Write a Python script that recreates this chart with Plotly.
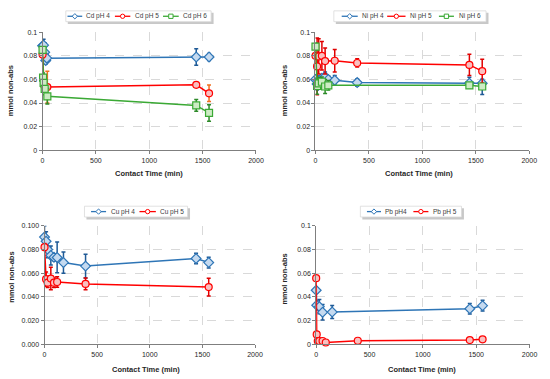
import plotly.graph_objects as go

# ---------------- data ----------------
x_ticks = [0, 500, 1000, 1500, 2000]

# Cd
cd4_t = [0, 10, 20, 30, 40, 1440, 1560]
cd4_v = [0.0884, 0.0890, 0.0830, 0.0760, 0.0780, 0.0790, 0.0790]
cd4_e = [0.0040, 0.0050, 0.0080, 0.0030, 0.0030, 0.0070, 0.0030]
cd5_t = [0, 15, 45, 1440, 1560]
cd5_v = [0.0810, 0.0550, 0.0535, 0.0554, 0.0482]
cd5_e = [0.0030, 0.0050, 0.0135, 0.0010, 0.0070]
cd6_t = [0, 5, 10, 20, 45, 1440, 1560]
cd6_v = [0.0850, 0.0615, 0.0570, 0.0520, 0.0457, 0.0380, 0.0316]
cd6_e = [0.0020, 0.0040, 0.0040, 0.0050, 0.0065, 0.0050, 0.0070]

# Ni
ni4_t = [0, 15, 30, 60, 90, 120, 180, 390, 1440, 1560]
ni4_v = [0.0600, 0.0560, 0.0590, 0.0610, 0.0622, 0.0600, 0.0593, 0.0573, 0.0568, 0.0567]
ni4_ep = [0.0030, 0.0050, 0.0040, 0.0030, 0.0040, 0.0030, 0.0040, 0.0030, 0.0050, 0.0035]
ni4_em = [0.0030, 0.0050, 0.0040, 0.0030, 0.0040, 0.0030, 0.0040, 0.0030, 0.0040, 0.0095]
ni5_t = [0, 15, 30, 60, 90, 180, 390, 1440, 1560]
ni5_v = [0.0800, 0.0710, 0.0795, 0.0800, 0.0755, 0.0758, 0.0739, 0.0723, 0.0670]
ni5_e = [0.0050, 0.0240, 0.0150, 0.0120, 0.0110, 0.0095, 0.0035, 0.0090, 0.0100]
ni6_t = [0, 15, 30, 60, 90, 120, 1440, 1560]
ni6_v = [0.0878, 0.0544, 0.0567, 0.0580, 0.0540, 0.0550, 0.0550, 0.0540]
ni6_e = [0.0030, 0.0070, 0.0050, 0.0040, 0.0060, 0.0040, 0.0020, 0.0020]

# Cu
cu4_t = [0, 15, 30, 60, 90, 120, 180, 390, 1440, 1560]
cu4_v = [0.0905, 0.0870, 0.0800, 0.0750, 0.0735, 0.0733, 0.0690, 0.0660, 0.0724, 0.0690]
cu4_e = [0.0095, 0.0080, 0.0070, 0.0080, 0.0030, 0.0130, 0.0090, 0.0100, 0.0045, 0.0045]
cu5_t = [0, 15, 30, 60, 90, 120, 390, 1560]
cu5_v = [0.0820, 0.0550, 0.0520, 0.0555, 0.0520, 0.0526, 0.0510, 0.0483]
cu5_e = [0.0030, 0.0060, 0.0040, 0.0095, 0.0040, 0.0045, 0.0050, 0.0075]

# Pb
pb4_t = [0, 5, 30, 60, 150, 1440, 1560]
pb4_v = [0.0456, 0.0330, 0.0318, 0.0270, 0.0272, 0.0300, 0.0326]
pb4_e = [0.0020, 0.0040, 0.0060, 0.0065, 0.0055, 0.0045, 0.0045]
pb5_t = [0, 5, 15, 30, 60, 90, 390, 1440, 1560]
pb5_v = [0.0558, 0.0083, 0.0028, 0.0028, 0.0028, 0.0015, 0.0030, 0.0036, 0.0042]
pb5_e = [0.0005, 0.0005, 0.0005, 0.0005, 0.0005, 0.0005, 0.0005, 0.0005, 0.0005]

# ---------------- styles ----------------
BLUE, BLUE_F, BLUE_E = "#2E75B6", "#C5DAF0", "#1F5A96"
RED, RED_F, RED_E = "#FF0000", "#F9C0C0", "#E00000"
GREEN, GREEN_F, GREEN_E = "#3BA935", "#CDEBC4", "#2D8A29"
ORANGE_E = "#F07020"

W, H = 550, 379
FONT = "Liberation Sans"
TXT = "#262626"


def px(x):
    return x / W


def py(y):
    return 1 - y / H


fig = go.Figure()

SIZES = {"diamond": 7.5, "circle": 7, "square": 7}


def add(t, v, ep, em, name, color, fill, ecol, symbol, idx):
    sfx = "" if idx == 1 else str(idx)
    fig.add_trace(go.Scatter(
        x=t, y=v, name=name, mode="lines+markers", showlegend=False,
        cliponaxis=False,
        line=dict(color=color, width=1.5),
        marker=dict(symbol=symbol, size=SIZES[symbol], color=fill,
                    line=dict(color=color, width=1.2)),
        error_y=dict(type="data", array=ep, arrayminus=em, color=ecol,
                     thickness=1.5, width=2, visible=True),
        xaxis="x" + sfx, yaxis="y" + sfx,
    ))


series = [
    (cd4_t, cd4_v, cd4_e, cd4_e, "Cd pH 4", BLUE, BLUE_F, BLUE_E, "diamond", 1),
    (cd5_t, cd5_v, cd5_e, cd5_e, "Cd pH 5", RED, RED_F, ORANGE_E, "circle", 1),
    (cd6_t, cd6_v, cd6_e, cd6_e, "Cd pH 6", GREEN, GREEN_F, GREEN_E, "square", 1),
    (ni4_t, ni4_v, ni4_ep, ni4_em, "Ni pH 4", BLUE, BLUE_F, BLUE_E, "diamond", 2),
    (ni5_t, ni5_v, ni5_e, ni5_e, "Ni pH 5", RED, RED_F, RED_E, "circle", 2),
    (ni6_t, ni6_v, ni6_e, ni6_e, "Ni pH 6", GREEN, GREEN_F, GREEN_E, "square", 2),
    (cu4_t, cu4_v, cu4_e, cu4_e, "Cu pH 4", BLUE, BLUE_F, BLUE_E, "diamond", 3),
    (cu5_t, cu5_v, cu5_e, cu5_e, "Cu pH 5", RED, RED_F, RED_E, "circle", 3),
    (pb4_t, pb4_v, pb4_e, pb4_e, "Pb pH4", BLUE, BLUE_F, BLUE_E, "diamond", 4),
    (pb5_t, pb5_v, pb5_e, pb5_e, "Pb pH 5", RED, RED_F, RED_E, "circle", 4),
]
for s in series:
    add(*s)

TICKF = dict(family=FONT, size=7, color=TXT)

# plot areas in pixels (left, right, top, bottom)
areas = {
    1: (41.3, 258.7, 28.7, 149.0),
    2: (319.3, 537.0, 28.7, 149.0),
    3: (43.3, 257.7, 226.0, 346.7),
    4: (320.0, 537.3, 226.0, 346.7),
}
y_fmt = {1: ".2~f", 2: ".2~f", 3: ".3f", 4: ".2~f"}

layout = dict(
    width=W, height=H, margin=dict(l=0, r=0, t=0, b=0),
    paper_bgcolor="white", plot_bgcolor="white", showlegend=False,
    font=dict(family=FONT, size=7, color=TXT),
)
for i, (l, r, t, b) in areas.items():
    sfx = "" if i == 1 else str(i)
    layout["xaxis" + sfx] = dict(
        domain=[px(l), px(r)], range=[0, 2000], tickvals=x_ticks,
        anchor="y" + sfx, showline=True, linecolor="#7F7F7F", linewidth=1,
        showgrid=True, gridcolor="#D9D9D9", griddash="dash", gridwidth=1,
        zeroline=False, ticks="outside", ticklen=3, tickcolor="#7F7F7F",
        tickfont=TICKF,
    )
    layout["yaxis" + sfx] = dict(
        domain=[py(b), py(t)], range=[0, 0.1], dtick=0.02,
        tickformat=y_fmt[i],
        anchor="x" + sfx, showline=True, linecolor="#7F7F7F", linewidth=1,
        showgrid=True, gridcolor="#D9D9D9", griddash="dash", gridwidth=1,
        zeroline=False, ticks="outside", ticklen=3, tickcolor="#7F7F7F",
        tickfont=TICKF,
    )
fig.update_layout(**layout)

# ---------------- legends (boxes in page pixels) ----------------
legend_boxes = {1: (65, 213, 7, 18), 2: (338, 493, 7, 18),
                3: (84, 189, 206, 217), 4: (365, 468, 206, 217)}
# (series index, line x0, line x1, text x)
legend_items = [
    (0, 66.7, 81.7, 84.0), (1, 115.0, 130.7, 133.0), (2, 164.0, 180.0, 182.7),
    (3, 346.0, 362.3, 364.3), (4, 392.3, 411.0, 413.3), (5, 445.0, 460.3, 463.3),
    (6, 90.7, 106.0, 108.7), (7, 140.0, 156.7, 158.7),
    (8, 371.7, 386.0, 387.7), (9, 419.0, 434.3, 436.7),
]
for i, (x0, x1, y0, y1) in legend_boxes.items():
    fig.add_shape(type="rect", xref="paper", yref="paper",
                  x0=px(x0 + 2), x1=px(x1 + 2.5), y0=py(y0 + 2), y1=py(y1 + 2.5),
                  fillcolor="#C8C8C8", line=dict(width=0), layer="above")
    fig.add_shape(type="rect", xref="paper", yref="paper",
                  x0=px(x0), x1=px(x1), y0=py(y0), y1=py(y1),
                  fillcolor="white", line=dict(color="#D9D9D9", width=0.8),
                  layer="above")

M = 2.2  # half size of legend glyphs in px
for si, lx0, lx1, tx in legend_items:
    s = series[si]
    name, color, symbol, idx = s[4], s[5], s[8], s[9]
    yb = legend_boxes[idx]
    yc = (yb[2] + yb[3]) / 2
    xc = (lx0 + lx1) / 2
    fig.add_shape(type="line", xref="paper", yref="paper", x0=px(lx0),
                  x1=px(lx1), y0=py(yc), y1=py(yc),
                  line=dict(color=color, width=1.3), layer="above")
    if symbol == "circle":
        fig.add_shape(type="circle", xref="paper", yref="paper",
                      x0=px(xc - M), x1=px(xc + M), y0=py(yc - M), y1=py(yc + M),
                      fillcolor="white", line=dict(color=color, width=1),
                      layer="above")
    elif symbol == "square":
        fig.add_shape(type="rect", xref="paper", yref="paper",
                      x0=px(xc - M), x1=px(xc + M), y0=py(yc - M), y1=py(yc + M),
                      fillcolor="white", line=dict(color=color, width=1),
                      layer="above")
    else:
        d = M + 0.5
        path = "M {a},{b} L {c},{e} L {a},{f} L {g},{e} Z".format(
            a=px(xc), b=py(yc - d), c=px(xc + d), e=py(yc), f=py(yc + d),
            g=px(xc - d))
        fig.add_shape(type="path", xref="paper", yref="paper", path=path,
                      fillcolor="white", line=dict(color=color, width=1),
                      layer="above")
    fig.add_annotation(text=name, xref="paper", yref="paper", x=px(tx), y=py(yc),
                       xanchor="left", yanchor="middle", showarrow=False,
                       font=dict(family=FONT, size=6.5, color="#404040"))

# axis titles
xt = {1: (150, 173), 2: (425, 173), 3: (147, 372), 4: (428, 372)}
yt = {1: (9, 88), 2: (288, 88), 3: (10, 278), 4: (288, 280)}
for i in areas:
    fig.add_annotation(text="<b>Contact Time (min)</b>", xref="paper", yref="paper",
                       x=px(xt[i][0]), y=py(xt[i][1]), showarrow=False,
                       xanchor="center", yanchor="middle",
                       font=dict(family=FONT, size=7.5, color=TXT))
    fig.add_annotation(text="<b>mmol non-abs</b>", xref="paper", yref="paper",
                       x=px(yt[i][0]), y=py(yt[i][1]), textangle=-90,
                       xanchor="center", yanchor="middle",
                       showarrow=False, font=dict(family=FONT, size=7.5, color=TXT))

fig.write_html("out.html", config={"displayModeBar": False},
               post_script="document.body.style.margin='0px';")
